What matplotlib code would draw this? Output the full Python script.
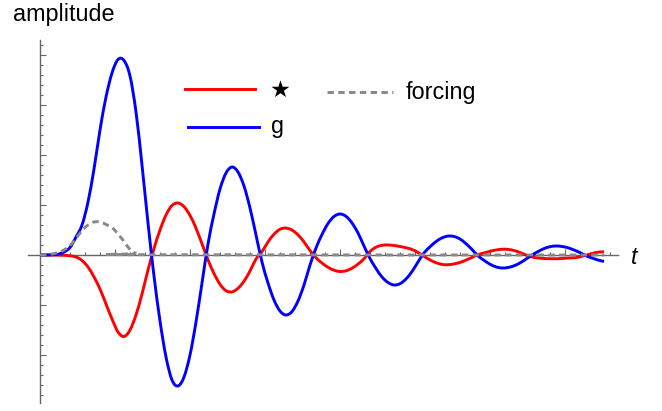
import numpy as np
import matplotlib
matplotlib.use("Agg")
import matplotlib.pyplot as plt
from matplotlib.lines import Line2D
from matplotlib.path import Path
from matplotlib.patches import PathPatch

# ---- data ----
# sample times (t units: 1 minor x tick = 1)
t = np.linspace(0.0, 37.6, 95)

g_vals = [0, 0, 0.02, 0.08, 0.3, 0.75, 1.8, 3.0, 5.3, 8.6,
          12.5, 15.8, 18.2, 19.55, 19.45, 17.9, 14.3, 9.0, 3.2, -2.1,
          -6.6, -10.2, -12.5, -13.1, -12.2, -10.0, -6.7, -2.8, 1.1, 4.1,
          6.6, 8.2, 8.8, 8.3, 6.9, 4.7, 2.0, -0.7, -2.8, -4.5,
          -5.6, -6.0, -5.65, -4.6, -3.0, -1.0, 0.7, 2.05, 3.15, 3.85,
          4.1, 3.87, 3.2, 2.2, 0.9, -0.35, -1.35, -2.2, -2.75, -3.0,
          -2.87, -2.4, -1.65, -0.7, 0.2, 0.82, 1.34, 1.71, 1.89, 1.85,
          1.6, 1.13, 0.55, -0.08, -0.53, -0.92, -1.19, -1.3, -1.25, -1.08,
          -0.79, -0.41, 0.0, 0.34, 0.64, 0.83, 0.9, 0.85, 0.72, 0.5,
          0.24, -0.08, -0.3, -0.5, -0.65]

star_vals = [0, 0, 0, -0.01, -0.03, -0.08, -0.2, -0.55, -1.2, -2.2,
             -3.4, -4.9, -6.4, -7.7, -8.15, -7.5, -6.0, -3.9, -1.5, 0.65,
             2.5, 4.0, 4.95, 5.2, 4.83, 3.96, 2.68, 1.12, -0.48, -1.85,
             -2.93, -3.57, -3.69, -3.33, -2.62, -1.6, -0.41, 0.34, 1.3, 2.08,
             2.57, 2.69, 2.49, 2.01, 1.31, 0.45, -0.28, -0.8, -1.23, -1.52,
             -1.65, -1.58, -1.32, -0.91, -0.38, 0.35, 0.78, 0.97, 1.0, 0.95,
             0.85, 0.72, 0.55, 0.25, -0.13, -0.49, -0.77, -0.94, -0.97, -0.89,
             -0.74, -0.51, -0.24, 0.03, 0.2, 0.37, 0.5, 0.57, 0.56, 0.45,
             0.25, 0.0, -0.2, -0.3, -0.35, -0.37, -0.37, -0.35, -0.3, -0.28,
             -0.18, -0.02, 0.15, 0.28, 0.32]

forcing_t = [0.0, 0.4, 0.8, 1.2, 1.6, 2.0, 2.4, 2.8, 3.2, 3.6,
             4.0, 4.4, 4.8, 5.2, 5.6, 6.0, 6.4, 6.8, 37.6]
forcing_vals = [0, 0.02, 0.1, 0.25, 0.5, 0.95, 1.65, 2.45, 3.0, 3.3,
                3.3, 3.05, 2.75, 2.1, 1.35, 0.55, 0.15, 0.03, 0.0]

series_labels = ["\u2605", "g", "forcing"]
x_label = "t"
y_label = "amplitude"

x_major = [5, 10, 15, 20, 25, 30, 35]
x_minor = [v for v in range(1, 39) if v % 5 != 0]
y_major = [-10, -5, 5, 10, 15, 20]
y_minor = [v for v in range(-14, 22) if v % 5 != 0]

# ---- figure ----
W, H = 662, 411
fig = plt.figure(figsize=(W / 100, H / 100), dpi=100)
ax = fig.add_axes([0, 0, 1, 1])
ax.set_facecolor("white")

# pixel-aligned data limits: x px = 40 + 15 t ; y px(from top) = 255 - 10 a
ax.set_xlim(-40 / 15, (W - 40) / 15)
ax.set_ylim((255 - H) / 10, 255 / 10)

axis_col = "#666666"
for s in ["top", "right"]:
    ax.spines[s].set_visible(False)
ax.spines["left"].set_position(("data", 0))
ax.spines["bottom"].set_position(("data", 0))
ax.spines["left"].set_bounds(-14.8, 21.5)
ax.spines["bottom"].set_bounds(-0.8, 38.5)
for s in ["left", "bottom"]:
    ax.spines[s].set_color(axis_col)
    ax.spines[s].set_linewidth(1.0)
    ax.spines[s].set_zorder(1)

ax.set_xticks(x_major)
ax.set_xticks(x_minor, minor=True)
ax.set_yticks(y_major)
ax.set_yticks(y_minor, minor=True)
ax.tick_params(which="both", direction="in", color=axis_col, width=0.8,
               labelbottom=False, labelleft=False)
ax.tick_params(which="major", length=4.5)
ax.tick_params(which="minor", length=2.5)


def smooth_path(xs, ys):
    """Smooth (Catmull-Rom style) Bezier path through the given data points."""
    P = np.column_stack([np.asarray(xs, float), np.asarray(ys, float)])
    n = len(P)
    verts = [P[0]]
    codes = [Path.MOVETO]
    for i in range(n - 1):
        p0 = P[i - 1] if i > 0 else P[i]
        p1 = P[i]
        p2 = P[i + 1]
        p3 = P[i + 2] if i + 2 < n else P[i + 1]
        c1 = p1 + (p2 - p0) / 6.0
        c2 = p2 - (p3 - p1) / 6.0
        verts += [c1, c2, p2]
        codes += [Path.CURVE4] * 3
    return Path(np.array(verts), codes)


lw = 2.1
red, blue, gray = "#ff0000", "#0000ff", "#888888"
dash = (0, (2.2, 1.5))
ax.add_patch(PathPatch(smooth_path(t, star_vals), facecolor="none", edgecolor=red,
                       lw=lw, zorder=3, capstyle="butt"))
ax.add_patch(PathPatch(smooth_path(t, g_vals), facecolor="none", edgecolor=blue,
                       lw=lw, zorder=4, capstyle="butt"))
ax.add_patch(PathPatch(smooth_path(forcing_t, forcing_vals), facecolor="none",
                       edgecolor=gray, lw=lw, zorder=5, linestyle=dash,
                       capstyle="butt"))

fonts = ["Liberation Sans", "DejaVu Sans"]
fs = 16.8


def fx(px):
    return px / W


def fy(py):
    return 1 - py / H


fig.text(fx(13), fy(21), y_label, fontsize=fs, family=fonts, va="baseline", ha="left")
fig.text(fx(631), fy(257), x_label, fontsize=fs, family=fonts, style="italic",
         va="center", ha="left")

# legend drawn manually
fig.add_artist(Line2D([fx(185), fx(255)], [fy(89.5), fy(89.5)], color=red, lw=lw))
fig.add_artist(Line2D([fx(188), fx(259)], [fy(127.5), fy(127.5)], color=blue, lw=lw))
fig.add_artist(Line2D([fx(327), fx(393)], [fy(92), fy(92)], color=gray, lw=lw,
                      linestyle=dash, dash_capstyle="butt"))
fig.text(fx(269), fy(90), series_labels[0], fontsize=fs, family=["DejaVu Sans"],
         va="center", ha="left")
fig.text(fx(271), fy(127), series_labels[1], fontsize=fs, family=fonts,
         va="center", ha="left")
fig.text(fx(406), fy(92), series_labels[2], fontsize=fs, family=fonts,
         va="center", ha="left")

fig.savefig("out.png", dpi=100)
